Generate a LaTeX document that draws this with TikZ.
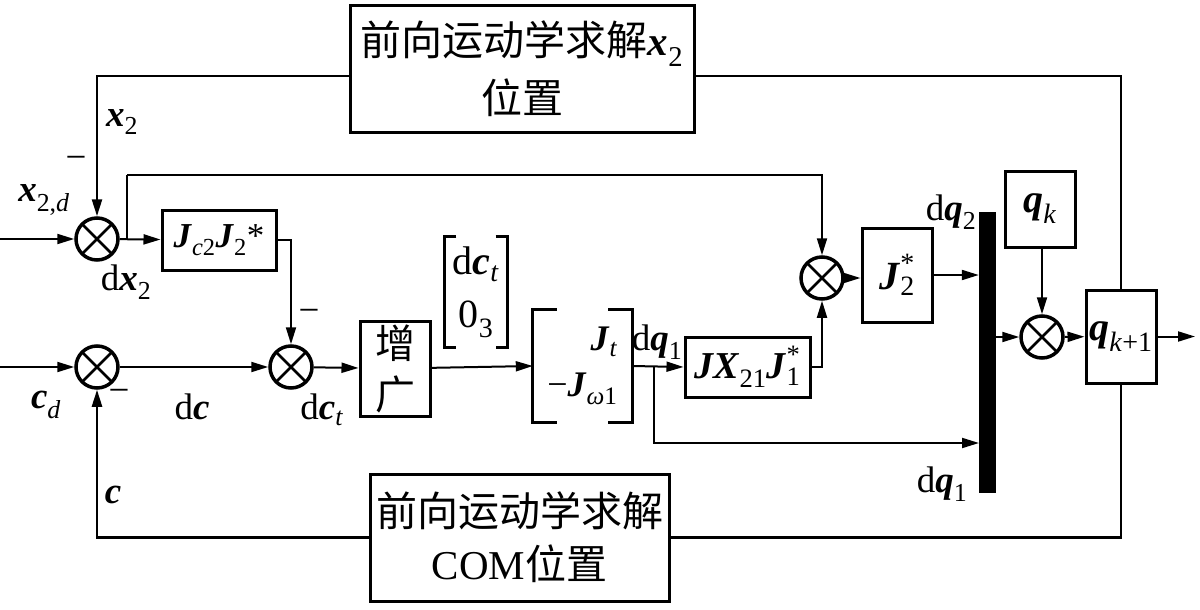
\documentclass[tikz,border=0pt]{standalone}
\usepackage{amsmath}
\usepackage{fontspec}
\setmainfont{Liberation Serif}
\newfontfamily\cjk{Noto Sans CJK SC}
\usetikzlibrary{arrows.meta}
\newcommand\bv[1]{\textbf{\textit{#1}}}
\newcommand\iv[1]{\textit{#1}}
\newcommand\Bv[1]{\text{\bv{#1}}}
\newcommand\Tx[1]{\text{#1}}
\begin{document}
\begin{tikzpicture}[x=1pt,y=-1pt,
  ln/.style={line width=2pt},
  arr/.style={line width=2pt,-{Triangle[length=17pt,width=10pt]}},
  fb/.style={line width=2.5pt},
  fbarr/.style={line width=2.5pt,-{Triangle[length=17pt,width=10pt]}},
  blk/.style={draw,line width=3pt,inner sep=0pt,fill=white},
  summ/.style={circle,draw,line width=3.5pt,minimum size=42pt,inner sep=0pt,
    path picture={
      \draw[line width=2.5pt] ([shift={(-15pt,-15pt)}]path picture bounding box.center) -- ([shift={(15pt,15pt)}]path picture bounding box.center);
      \draw[line width=2.5pt] ([shift={(-15pt,15pt)}]path picture bounding box.center) -- ([shift={(15pt,-15pt)}]path picture bounding box.center);}},
  lbl/.style={inner sep=0pt,font=\fontsize{37}{42}\selectfont},
  brk/.style={line width=3pt}
]
\useasboundingbox (0,0) rectangle (1200,610);

% summing junctions
\node[summ] (sum1) at (97,239) {};
\node[summ] (sum2) at (97,367) {};
\node[summ] (sum3) at (291,367) {};
\node[summ] (sum4) at (822,278) {};
\node[summ] (sum5) at (1042,337) {};

% blocks
\node[blk,minimum width=114pt,minimum height=60pt,font=\fontsize{35}{40}\selectfont] (bJc) at (219,240)
  {$\Bv{J}_{\Tx{\iv{c}2}}\Bv{J}_{\Tx{2}}\Tx{*}$};
\node[blk,minimum width=70pt,minimum height=95pt,align=center,font=\fontsize{40}{51}\selectfont\cjk] (bAug) at (395,368.5)
  {增\\广};
\node[inner sep=0pt,minimum width=63pt,minimum height=111pt,align=center,font=\fontsize{40}{53}\selectfont] (vec) at (476,292)
  {d$\Bv{c}_{\Tx{\iv{t}}}$\\0$_{\Tx{3}}$};
\node[inner sep=0pt,minimum width=99pt,minimum height=112pt,align=right,font=\fontsize{36}{46}\selectfont] (mat) at (582.5,366)
  {$\Bv{J}_{\Tx{\iv{t}}}$\\$\Tx{−\bv{J}}_{\Tx{\iv{ω}1}}$};
\node[blk,minimum width=125pt,minimum height=60pt,font=\fontsize{38}{46}\selectfont] (bJX) at (747.5,367)
  {$\Bv{JX}_{\Tx{21}}\Bv{J}_{\Tx{1}}^{\Tx{*}}$};
\node[blk,minimum width=70pt,minimum height=94pt,font=\fontsize{40}{48}\selectfont] (bJ2) at (897,275)
  {$\Bv{J}_{\Tx{2}}^{\Tx{*}}$};
\node[fill=black,inner sep=0pt,minimum width=17pt,minimum height=281pt] (bar) at (987.5,352.5) {};
\node[blk,minimum width=70pt,minimum height=76pt,font=\fontsize{40}{48}\selectfont] (bqk) at (1040,209)
  {$\Bv{q}_{\Tx{\iv{k}}}$};
\node[blk,minimum width=70pt,minimum height=93pt,font=\fontsize{40}{48}\selectfont] (bqk1) at (1121,336.5)
  {$\Bv{q}_{\Tx{\iv{k}+1}}$};
\node[blk,minimum width=344pt,minimum height=126pt,align=center,font=\fontsize{41}{58}\selectfont] (topbox) at (522,69)
  {{\cjk 前向运动学求解}$\Bv{x}_{\Tx{2}}$\\{\cjk 位置}};
\node[blk,minimum width=299pt,minimum height=127pt,align=center,font=\fontsize{41}{53}\selectfont] (botbox) at (519.5,537.5)
  {{\cjk 前向运动学求解}\\COM{\cjk 位置}};

% brackets
\draw[brk] ([xshift=12pt]vec.north west) -| (vec.south west) -- ++(12,0);
\draw[brk] ([xshift=-12pt]vec.north east) -| (vec.south east) -- ++(-12,0);
\draw[brk] ([xshift=24pt]mat.north west) -| (mat.south west) -- ++(24,0);
\draw[brk] ([xshift=-24pt]mat.north east) -| (mat.south east) -- ++(-24,0);

% coordinates
\coordinate (in0) at (0,239);
\coordinate (in2) at (0,367);
\coordinate (out) at (1195,336.5);
\coordinate (tl) at (97,76);
\coordinate (tr) at (1121,76);
\coordinate (bl) at (97,537.5);
\coordinate (br) at (1121,537.5);
\coordinate (t1) at (127,175);
\coordinate (b2) at (654,367);
\coordinate (q1in) at (979,443);

% connectors
\draw[arr] (in0) -- (sum1);
\draw[arr] (in2) -- (sum2);
\draw[arr] (sum1) -- (bJc);
\draw[ln] (t1 |- sum1.east) -- (t1);
\draw[arr] (t1) -| (sum4.north);
\draw[arr] (bJc.east) -| (sum3.north);
\draw[arr] (sum2) -- (sum3);
\draw[arr] (sum3) -- (bAug);
\draw[arr] (bAug) -- (mat.west);
\draw[arr] (mat.east) -- (bJX.west);
\draw[arr] (b2) |- (q1in);
\draw[arr] (bJX.east) -| (sum4.south);
\draw[arr] (sum4) -- (bJ2.west |- sum4.east);
\draw[arr] (bJ2.east) -- (bJ2.east -| bar.west);
\draw[arr] (bar.east |- sum5.west) -- (sum5);
\draw[arr] (bqk.south -| sum5.north) -- (sum5);
\draw[arr] (sum5) -- (bqk1);
\draw[arr] (bqk1.east) -- (out);
\draw[fb] (bqk1.north) -- (tr) -- (tr -| topbox.east);
\draw[fbarr] (tl -| topbox.west) -- (tl) -- (sum1.north);
\draw[fb] (bqk1.south) -- (br) -- (botbox.east);
\draw[fbarr] (botbox.west) -- (bl) -- (sum2.south);

% labels
\node[lbl] (lx2) at (122,122) {$\Bv{x}_{\Tx{2}}$};
\node[lbl] (lm1) at (76,163) {−};
\node[lbl] (lx2d) at (44,200) {$\Bv{x}_{\Tx{2,\iv{d}}}$};
\node[lbl] (ldx2) at (126,282) {d$\Bv{x}_{\Tx{2}}$};
\node[lbl] (lcd) at (46,405) {$\Bv{c}_{\Tx{\iv{d}}}$};
\node[lbl] (lm2) at (119,396) {−};
\node[lbl] (ldc) at (192,407) {d\bv{c}};
\node[lbl] (ldct) at (322,410) {d$\Bv{c}_{\Tx{\iv{t}}}$};
\node[lbl] (lm3) at (309,316) {−};
\node[lbl] (lc) at (113,495) {\bv{c}};
\node[lbl] (ldq1a) at (657,342) {d$\Bv{q}_{\Tx{1}}$};
\node[lbl] (ldq2) at (951,212) {d$\Bv{q}_{\Tx{2}}$};
\node[lbl] (ldq1b) at (942,484) {d$\Bv{q}_{\Tx{1}}$};
\end{tikzpicture}
\end{document}
